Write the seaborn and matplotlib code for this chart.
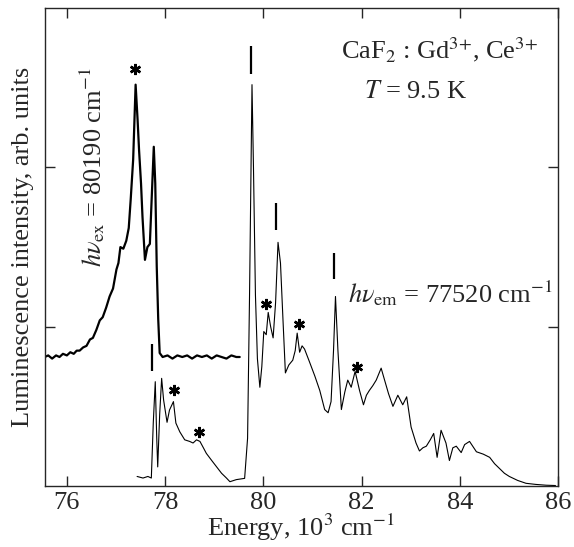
import numpy as np
import pandas as pd
import matplotlib
matplotlib.use("Agg")
import matplotlib.pyplot as plt
import seaborn as sns

# excitation spectrum (upper curve), energy in 10^3 cm^-1
ex_energy = [75.55, 75.62, 75.70, 75.78, 75.85, 75.92, 76.00, 76.07, 76.14, 76.20,
             76.26, 76.33, 76.40, 76.47, 76.53, 76.60, 76.67, 76.73, 76.80, 76.87,
             76.94, 77.01, 77.05, 77.09, 77.15, 77.21, 77.26, 77.30, 77.35, 77.40,
             77.44, 77.47, 77.51, 77.54, 77.59, 77.64, 77.69, 77.72, 77.77, 77.80,
             77.83, 77.86, 77.89, 77.95, 78.05, 78.15, 78.25, 78.35, 78.45, 78.55,
             78.65, 78.75, 78.85, 78.95, 79.05, 79.15, 79.25, 79.35, 79.45, 79.52]
ex_intensity = [0.81, 0.82, 0.80, 0.82, 0.81, 0.83, 0.82, 0.84, 0.83, 0.85,
                0.85, 0.87, 0.88, 0.92, 0.93, 0.98, 1.04, 1.06, 1.12, 1.19,
                1.24, 1.36, 1.40, 1.50, 1.49, 1.54, 1.62, 1.80, 2.05, 2.52,
                2.30, 2.11, 1.90, 1.69, 1.42, 1.50, 1.52, 1.75, 2.13, 1.90,
                1.38, 1.05, 0.835, 0.81, 0.82, 0.80, 0.82, 0.81, 0.82, 0.80,
                0.82, 0.81, 0.82, 0.80, 0.82, 0.81, 0.80, 0.82, 0.81, 0.81]

# emission spectrum (lower curve)
em_energy = [77.43, 77.55, 77.65, 77.72, 77.76, 77.80, 77.83, 77.85, 77.89, 77.93,
             77.97, 78.04, 78.09, 78.17, 78.22, 78.30, 78.40, 78.50, 78.57, 78.64,
             78.71, 78.78, 78.84, 78.95, 79.05, 79.15, 79.25, 79.32, 79.45, 79.62,
             79.68, 79.72, 79.77, 79.80, 79.84, 79.88, 79.93, 79.97, 80.01, 80.06,
             80.10, 80.15, 80.20, 80.25, 80.30, 80.35, 80.40, 80.45, 80.52, 80.60,
             80.65, 80.69, 80.74, 80.79, 80.84, 80.94, 81.05, 81.15, 81.25, 81.32,
             81.38, 81.43, 81.47, 81.52, 81.59, 81.66, 81.72, 81.79, 81.87, 81.96,
             82.04, 82.10, 82.16, 82.23, 82.30, 82.40, 82.47, 82.55, 82.64, 82.74,
             82.84, 82.92, 83.01, 83.11, 83.18, 83.25, 83.32, 83.40, 83.47, 83.54,
             83.62, 83.72, 83.79, 83.86, 83.93, 84.03, 84.10, 84.20, 84.34, 84.48,
             84.61, 84.71, 84.81, 84.91, 85.01, 85.18, 85.35, 85.55, 85.76, 85.95]
em_intensity = [0.06, 0.05, 0.06, 0.05, 0.40, 0.655, 0.30, 0.12, 0.45, 0.676,
                0.54, 0.40, 0.477, 0.53, 0.395, 0.34, 0.29, 0.28, 0.27, 0.29,
                0.28, 0.24, 0.205, 0.16, 0.12, 0.08, 0.05, 0.027, 0.04, 0.048,
                0.30, 1.20, 2.52, 2.00, 1.20, 0.80, 0.62, 0.75, 0.97, 0.95,
                1.09, 1.00, 0.93, 1.15, 1.53, 1.40, 1.05, 0.71, 0.76, 0.79,
                0.85, 0.96, 0.84, 0.88, 0.86, 0.78, 0.69, 0.60, 0.48, 0.46,
                0.53, 0.85, 1.19, 0.85, 0.48, 0.59, 0.665, 0.62, 0.72, 0.60,
                0.51, 0.57, 0.60, 0.63, 0.665, 0.74, 0.665, 0.58, 0.50, 0.57,
                0.51, 0.56, 0.37, 0.27, 0.22, 0.24, 0.25, 0.29, 0.33, 0.18,
                0.35, 0.27, 0.16, 0.24, 0.25, 0.21, 0.26, 0.28, 0.215, 0.20,
                0.18, 0.14, 0.11, 0.08, 0.06, 0.035, 0.017, 0.01, 0.005, 0.003]

# line marks (|) and asterisk marks
bar_energy = [77.74, 79.74, 80.25, 81.45]
bar_low = [0.72, 2.59, 1.61, 1.30]
bar_high = [0.89, 2.76, 1.78, 1.46]
star_energy = [77.38, 78.18, 78.69, 80.06, 80.72, 81.90]
star_intensity = [2.62, 0.60, 0.34, 1.14, 1.02, 0.75]

x_ticks = [76, 78, 80, 82, 84, 86]
y_ticks = [1, 2]

sns.set_style("ticks")
plt.rcParams["font.family"] = ["Liberation Serif", "DejaVu Serif"]
plt.rcParams["mathtext.fontset"] = "stix"

ex_df = pd.DataFrame({"Energy": ex_energy, "Intensity": ex_intensity})
em_df = pd.DataFrame({"Energy": em_energy, "Intensity": em_intensity})

fig = plt.figure(figsize=(5.74, 5.47), dpi=100)
ax = fig.add_axes([0.078, 0.1115, 0.894, 0.8735])

sns.lineplot(data=ex_df, x="Energy", y="Intensity", ax=ax, color="black",
             linewidth=1.6, sort=False)
sns.lineplot(data=em_df, x="Energy", y="Intensity", ax=ax, color="black",
             linewidth=0.8, sort=False)

ax.vlines(bar_energy, bar_low, bar_high, color="black", linewidth=1.6)
ax.plot(star_energy, star_intensity, linestyle="none", marker=(6, 2, 0),
        markersize=8, markeredgewidth=1.8, color="black")

txt = 19
ax.text(83.59, 2.74, r"CaF$_2$ : Gd$^{3{+}}$, Ce$^{3{+}}$", ha="center",
        va="center", fontsize=txt)
ax.text(83.11, 2.475, r"$T$ = 9.5 K", ha="center", va="center", fontsize=txt)
ax.text(81.72, 1.21, r"$h\nu_{\rm em}$ = 77520 cm$^{-1}$", ha="left",
        va="center", fontsize=txt)
ax.text(76.51, 2.0, r"$h\nu_{\rm ex}$ = 80190 cm$^{-1}$", ha="center",
        va="center", rotation=90, fontsize=txt)

ax.set_xlim(75.55, 86)
ax.set_ylim(0, 3)
ax.set_xticks(x_ticks)
ax.set_yticks(y_ticks)
ax.set_yticklabels([])
ax.tick_params(direction="in", length=7, width=1, top=True, right=True,
               labelsize=19, pad=4)
for s in ax.spines.values():
    s.set_linewidth(1)
ax.set_xlabel(r"Energy, 10$^3$ cm$^{-1}$", fontsize=19, labelpad=-1)
ax.set_ylabel("Luminescence intensity, arb. units", fontsize=19, labelpad=4)

fig.savefig("out.png", dpi=100)
